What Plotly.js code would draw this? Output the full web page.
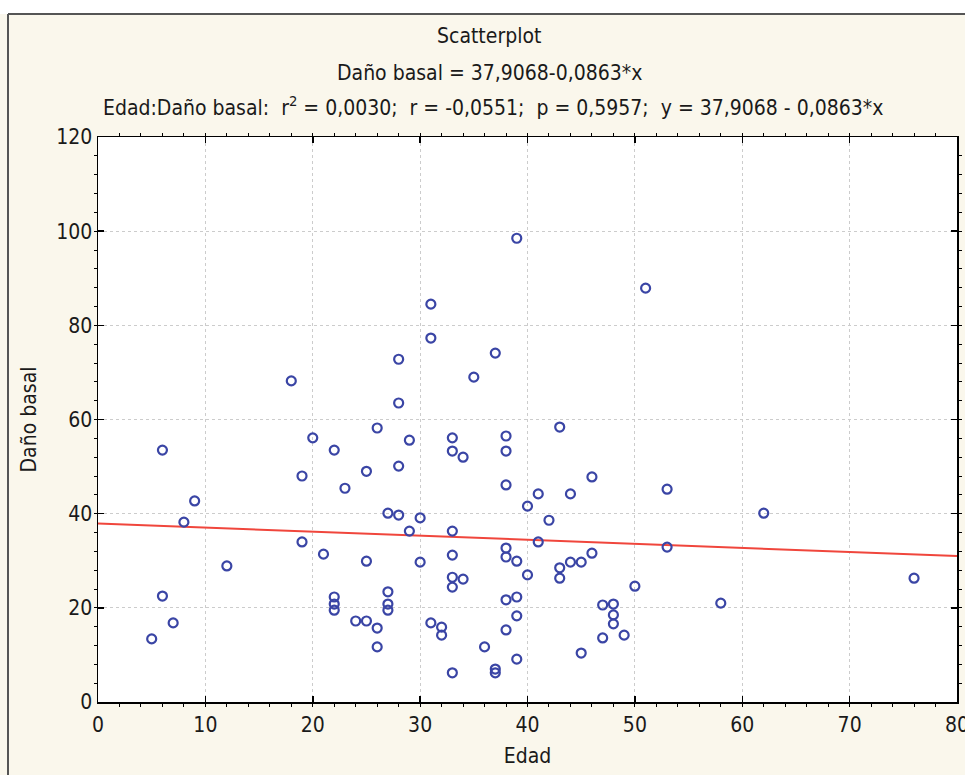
<!DOCTYPE html>
<html>
<head>
<meta charset="utf-8">
<script src="https://cdn.plot.ly/plotly-3.0.1.min.js"></script>
<style>
html,body{margin:0;padding:0;background:#ffffff;}
#chart{width:965px;height:775px;}
</style>
</head>
<body>
<div id="chart"></div>
<script>
// Edad (x) values of the observations
const edad = [
  5, 6, 6, 7, 8, 9, 12, 18, 19, 19,
  20, 21, 22, 22, 22, 22, 23, 24, 25, 25,
  25, 26, 26, 26, 27, 27, 27, 27, 28, 28,
  28, 28, 29, 29, 30, 30, 31, 31, 31, 32,
  32, 33, 33, 33, 33, 33, 33, 33, 34, 34,
  35, 36, 37, 37, 37, 38, 38, 38, 38, 38,
  38, 38, 39, 39, 39, 39, 39, 40, 40, 41,
  41, 42, 43, 43, 43, 44, 44, 45, 45, 46,
  46, 47, 47, 48, 48, 48, 49, 50, 51, 53,
  53, 58, 62, 76
];
// Daño basal (y) values of the observations
const danoBasal = [
  13.4, 53.5, 22.5, 16.8, 38.2, 42.7, 28.9, 68.2, 48.0, 34.0,
  56.1, 31.4, 53.5, 22.3, 20.8, 19.5, 45.4, 17.2, 17.2, 49.0,
  29.9, 58.2, 15.7, 11.7, 40.1, 23.4, 20.8, 19.5, 63.5, 72.8,
  50.1, 39.7, 55.6, 36.3, 39.1, 29.7, 84.5, 77.3, 16.8, 15.9,
  14.2, 56.1, 53.3, 36.3, 31.2, 26.5, 24.4, 6.2, 52.0, 26.1,
  69.0, 11.7, 74.1, 7.0, 6.2, 56.5, 53.3, 46.1, 32.7, 30.8,
  21.7, 15.3, 98.5, 29.9, 22.3, 18.3, 9.1, 41.6, 27.0, 44.2,
  34.0, 38.6, 58.4, 28.5, 26.3, 44.2, 29.7, 29.7, 10.4, 47.8,
  31.6, 20.6, 13.6, 20.8, 18.5, 16.6, 14.2, 24.6, 87.9, 45.2,
  32.9, 21.0, 40.1, 26.3
];
// Regression line as stated in the chart: y = 37.9068 - 0.0863*x
const intercept = 37.9068;
const slope = -0.0863;
const fitX = [0, 80];
const fitY = fitX.map(v => intercept + slope * v);

const xTicks = [0, 10, 20, 30, 40, 50, 60, 70, 80];
const yTicks = [0, 20, 40, 60, 80, 100, 120];

const titleLines = [
  'Scatterplot',
  'Daño basal = 37,9068-0,0863*x',
  'Edad:Daño basal:&nbsp; r<sup>2</sup> = 0,0030;&nbsp; r = -0,0551;&nbsp; p = 0,5957;&nbsp; y = 37,9068 - 0,0863*x'
];
const xTitle = 'Edad';
const yTitle = 'Daño basal';

const FONT = '"DejaVu Sans Condensed", "Liberation Sans Narrow", "Arial Narrow", sans-serif';
const TXT = '#1a1a1a';

// plot-area geometry in pixels
const W = 965, H = 775;
const L = 98, R = 957, T = 137, B = 702;
const px2x = p => (p - L) / (R - L);
const py2y = p => (B - p) / (B - T);

const traces = [
  {
    x: fitX, y: fitY, type: 'scatter', mode: 'lines',
    line: {color: '#f0463c', width: 2},
    hoverinfo: 'skip', showlegend: false
  },
  {
    x: edad, y: danoBasal, type: 'scatter', mode: 'markers',
    marker: {symbol: 'circle-open', size: 9, color: '#3a45a5', line: {width: 2.2, color: '#3a45a5'}},
    showlegend: false
  }
];

const axisCommon = {
  showline: true, linecolor: '#000000', linewidth: 1.5, mirror: 'ticks',
  ticks: 'inside', ticklen: 6, tickwidth: 1.5, tickcolor: '#000000',
  showgrid: true, gridcolor: '#cccccc', griddash: 'dot', gridwidth: 1,
  zeroline: false, ticklabeloverflow: 'allow',
  tickfont: {family: FONT, size: 21, color: TXT}
};

const layout = {
  width: W, height: H,
  paper_bgcolor: '#faf7ec', plot_bgcolor: '#ffffff',
  margin: {l: L, r: W - R, t: T, b: H - B, pad: 0},
  showlegend: false,
  xaxis: Object.assign({}, axisCommon, {
    range: [0, 80], tickmode: 'array', tickvals: xTicks, ticktext: xTicks.map(String),
    ticklabelstandoff: 3,
    minor: {dtick: 2, ticklen: 3, tickwidth: 1, tickcolor: '#000000', showgrid: false},
    title: {text: xTitle, font: {family: FONT, size: 21, color: TXT}, standoff: 12}
  }),
  yaxis: Object.assign({}, axisCommon, {
    range: [0, 120], tickmode: 'array', tickvals: yTicks, ticktext: yTicks.map(String),
    minor: {dtick: 4, ticklen: 3, tickwidth: 1, tickcolor: '#000000', showgrid: false},
    title: {text: yTitle, font: {family: FONT, size: 21, color: TXT}, standoff: 14}
  }),
  annotations: [
    {text: titleLines[0], xref: 'paper', yref: 'paper', x: px2x(489), y: py2y(36), xanchor: 'center', yanchor: 'middle', showarrow: false, font: {family: FONT, size: 21, color: TXT}},
    {text: titleLines[1], xref: 'paper', yref: 'paper', x: px2x(489), y: py2y(73), xanchor: 'center', yanchor: 'middle', showarrow: false, font: {family: FONT, size: 21, color: TXT}},
    {text: titleLines[2], xref: 'paper', yref: 'paper', x: px2x(493), y: py2y(106), xanchor: 'center', yanchor: 'middle', showarrow: false, font: {family: FONT, size: 21, color: TXT}}
  ],
  shapes: [
    {type: 'rect', xref: 'paper', yref: 'paper', x0: px2x(-5), x1: px2x(970), y0: py2y(14), y1: py2y(-5), fillcolor: '#ffffff', line: {width: 0}, layer: 'below'},
    {type: 'line', xref: 'paper', yref: 'paper', x0: px2x(8), x1: px2x(970), y0: py2y(14), y1: py2y(14), line: {color: '#555555', width: 2}},
    {type: 'line', xref: 'paper', yref: 'paper', x0: px2x(8), x1: px2x(8), y0: py2y(14), y1: py2y(780), line: {color: '#555555', width: 2}}
  ]
};

Plotly.newPlot('chart', traces, layout, {displayModeBar: false, staticPlot: true});
</script>
</body>
</html>
